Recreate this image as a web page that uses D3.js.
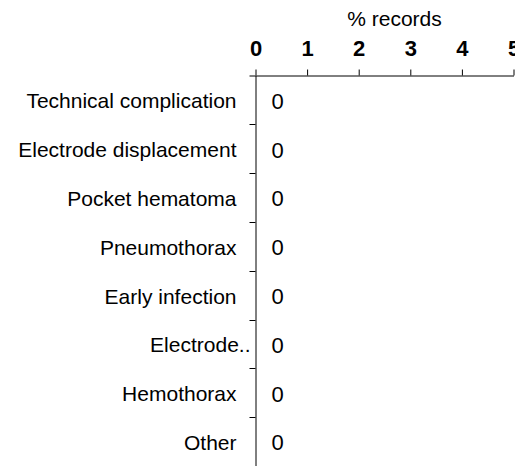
<!DOCTYPE html>
<html>
<head>
<meta charset="utf-8">
<script src="https://cdn.jsdelivr.net/npm/d3@7"></script>
<style>
  html, body { margin: 0; padding: 0; background: #fff; }
  svg { display: block; font-family: "Liberation Sans", Arial, sans-serif; }
</style>
</head>
<body>
<svg id="chart" width="515" height="466"></svg>
<script>
const categories = ["Technical complication", "Electrode displacement", "Pocket hematoma", "Pneumothorax", "Early infection", "Electrode..", "Hemothorax", "Other"];
const values = [0, 0, 0, 0, 0, 0, 0, 0];
const xTicks = [0, 1, 2, 3, 4, 5];
const xTitle = "% records";

(function () {
const svg = d3.select("#chart");
const mLeft = 255.5, mTop = 75.5, mRight = 513.5, mBottom = 466;

const x = d3.scaleLinear().domain([0, 5]).range([mLeft, mRight]);
const yPos = d3.scaleBand().domain(categories).range([mTop, mBottom]);
const yBar = d3.scaleBand().domain(categories).range([mTop, mBottom]).paddingInner(0.2).paddingOuter(0.1);

// bars (all zero width)
svg.append("g").selectAll("rect").data(values).join("rect")
  .attr("x", x(0))
  .attr("y", (d, i) => yBar(categories[i]))
  .attr("width", d => x(d) - x(0))
  .attr("height", yBar.bandwidth())
  .attr("fill", "#4e79a7");

// x axis on top
const gx = svg.append("g").attr("transform", `translate(0,${mTop})`)
  .call(d3.axisTop(x).tickValues(xTicks).tickFormat(d3.format("d")).tickSize(6).tickSizeOuter(0).tickPadding(14));
gx.selectAll("text").attr("font-size", 22).attr("font-weight", "bold").attr("fill", "#000")
  .attr("font-family", '"Liberation Sans", Arial, sans-serif');
gx.selectAll("line,path").attr("stroke", "#000");

svg.append("text").attr("x", 394.5).attr("y", 26).attr("text-anchor", "middle")
  .attr("font-size", 21).attr("fill", "#000").text(xTitle);

// y axis: line with ticks at band boundaries, labels at band centres
const yRange = yPos.range();
const yStep = yPos.step();
const gy = svg.append("g").attr("transform", `translate(${mLeft},0)`)
  .call(d3.axisLeft(yPos).tickSize(0).tickSizeOuter(6).tickPadding(19));
gy.selectAll("text").attr("font-size", 21).attr("fill", "#000").attr("dy", "0.4em")
  .attr("font-family", '"Liberation Sans", Arial, sans-serif')
  .attr("dx", d => d.endsWith("..") ? 14 : 0);
gy.select(".domain").attr("stroke", "#000");
gy.selectAll(".boundary").data(d3.range(1, categories.length)).join("line")
  .attr("class", "boundary")
  .attr("x1", -6).attr("x2", 0)
  .attr("y1", i => Math.round(yRange[0] + i * yStep) + 0.5)
  .attr("y2", i => Math.round(yRange[0] + i * yStep) + 0.5)
  .attr("stroke", "#000");

// value labels
svg.append("g").selectAll("text").data(values).join("text")
  .attr("x", d => x(d) + 16)
  .attr("y", (d, i) => yPos(categories[i]) + yPos.bandwidth() / 2)
  .attr("dy", "0.4em")
  .attr("font-size", 22).attr("fill", "#000")
  .text(d => d3.format("d")(d));
})();
</script>
</body>
</html>
